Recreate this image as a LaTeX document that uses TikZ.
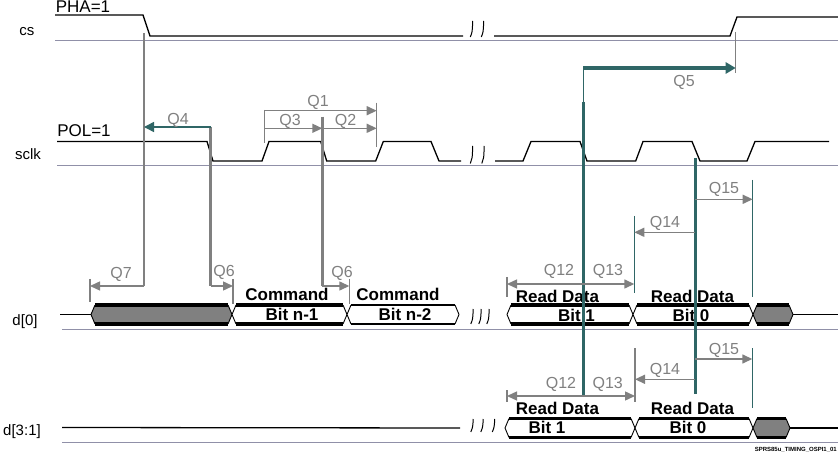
\documentclass[tikz,border=0pt]{standalone}
\usepackage{fontspec}
\setmainfont{Liberation Sans}
\usetikzlibrary{arrows.meta}
\definecolor{baseg}{HTML}{9090A8}
\definecolor{arrg}{HTML}{808080}
\definecolor{tealc}{HTML}{2F6666}
\tikzset{
 sig/.style={line width=1.3pt, black},
 base/.style={line width=1.3pt, baseg},
 tick/.style={line width=1.2pt, arrg},
 guide/.style={line width=2.6pt, arrg},
 tguide/.style={line width=3pt, tealc},
 tthin/.style={line width=1.4pt, tealc},
 dim/.style={line width=1.4pt, arrg, -{Triangle[length=10pt,width=9pt]}},
 dimb/.style={line width=1.4pt, arrg, {Triangle[length=10pt,width=9pt]}-{Triangle[length=10pt,width=9pt]}},
 tdim/.style={line width=1.5pt, tealc, -{Triangle[length=10pt,width=10pt]}},
 tdimk/.style={line width=4pt, tealc, -{Triangle[length=10pt,width=11pt]}},
 qlab/.style={text=arrg, font=\fontsize{16}{16}\selectfont, inner sep=0},
 rowlab/.style={font=\fontsize{15}{15}\selectfont, inner sep=0},
 pollab/.style={font=\fontsize{17}{17}\selectfont, inner sep=0},
 buslab/.style={font=\bfseries\fontsize{17}{17}\selectfont, inner sep=0},
 brk/.style={line width=1pt, black},
}
% bus: #1 left x, #2 right x, #3 centre y, #4 fill, #5 border width
\newcommand\tbus[5]{%
  \fill[#4] (#1,#3) -- (#1+4,#3-9.5) -- (#2-4,#3-9.5) -- (#2,#3) -- (#2-4,#3+9.5) -- (#1+4,#3+9.5) -- cycle;
  \draw[line width=0.9pt] (#1+4,#3-9.5) -- (#1,#3) -- (#1+4,#3+9.5) (#2-4,#3-9.5) -- (#2,#3) -- (#2-4,#3+9.5);
  \draw[line width=#5] (#1+4,#3-9.5) -- (#2-4,#3-9.5) (#1+4,#3+9.5) -- (#2-4,#3+9.5);
}
\newcommand\brkmark[3]{\draw[brk] (#1-1.2,#3) .. controls (#1+0.8,#3-5) .. (#1+1.2,#2);}
\begin{document}
\begin{tikzpicture}[x=1pt,y=-1pt]
\useasboundingbox (0,0) rectangle (838,454);
\fill[white] (0,0) rectangle (838,454);

% baselines
\draw[base] (55,40.7) -- (838,40.7);
\draw[base] (57,165.7) -- (838,165.7);
\draw[base] (62,329.3) -- (838,329.3);
\draw[base] (62,442.3) -- (838,442.3);

% row labels
\node[rowlab] (lcs) at (27,31.5) {cs};
\node[rowlab] (lsclk) at (28,154) {sclk};
\node[rowlab] (ld0) at (25,322) {d[0]};
\node[rowlab] (ld31) at (22,432) {d[3:1]};
\node[pollab] (pha) at (83,6.5) {PHA=1};
\node[pollab] (pol) at (84,131) {POL=1};

% cs
\draw[sig] (55,15) -- (143,15) -- (150,36) -- (463,36);
\brkmark{471.5}{21}{37}
\brkmark{482.5}{21}{37}
\draw[sig] (494,36) -- (730,36) -- (737,17) -- (838,17);

% sclk
\draw[sig] (57,141.5) -- (207,141.5) -- (213,161) -- (262,161) -- (269,141.5) -- (320.7,141.5) -- (326.7,161) -- (375.7,161) -- (383.3,141.5) -- (431,141.5) -- (439,161) -- (461,161);
\brkmark{471.5}{146}{163.5}
\brkmark{483}{146}{163.5}
\draw[sig] (495,161) -- (523,161) -- (531,141.5) -- (580,141.5) -- (587,161) -- (635.7,161) -- (643,141.5) -- (692,141.5) -- (700,161) -- (747,161) -- (755,141.5) -- (829,141.5);

% d[0]
\draw[sig] (60,314.5) -- (91,314.5);
\tbus{91}{232}{314.5}{arrg}{3.5pt}
\tbus{232}{347}{314.5}{white}{3.5pt}
\tbus{347}{459}{314.5}{white}{1.2pt}
\brkmark{472}{309}{324}
\brkmark{480}{309}{324}
\brkmark{488}{309}{324}
\tbus{507}{633}{314.5}{white}{3.5pt}
\tbus{633}{753}{314.5}{white}{3.5pt}
\tbus{753}{793}{314.5}{arrg}{3.5pt}
\draw[sig] (793,314.5) -- (838,314.5);

% d[3:1]
\draw[sig] (62,427.5) -- (460,428);
\brkmark{472}{419}{432}
\brkmark{482}{419}{432}
\brkmark{493.5}{419}{432}
\tbus{505}{635}{428}{white}{3.5pt}
\tbus{635}{753}{428}{white}{3.5pt}
\tbus{753}{790}{428}{arrg}{3.5pt}
\draw[sig] (790,428) -- (838,428);

% bus labels
\node[buslab] (c1) at (287,294) {Command};
\node[buslab] (b1) at (292,314.5) {Bit n-1};
\node[buslab] (c2) at (398,294) {Command};
\node[buslab] (b2) at (405,314.5) {Bit n-2};
\node[buslab] (r1) at (557.5,296) {Read Data};
\node[buslab] (rb1) at (576.5,315) {Bit 1};
\node[buslab] (r0) at (692.5,296) {Read Data};
\node[buslab] (rb0) at (691,315) {Bit 0};
\node[buslab] (r1l) at (557.5,408.5) {Read Data};
\node[buslab] (rb1l) at (547,427.5) {Bit 1};
\node[buslab] (r0l) at (692.5,408.5) {Read Data};
\node[buslab] (rb0l) at (688,427.5) {Bit 0};

% named coordinates for timing guides
\coordinate (g1t) at (144,33);
\coordinate (g1b) at (144,286);
\coordinate (q7e) at (90,286);
\coordinate (g2t) at (210.7,127);
\coordinate (g2b) at (210.7,286);
\coordinate (q6ae) at (233,286);
\coordinate (g3t) at (322.3,116.7);
\coordinate (g3b) at (322.3,286);
\coordinate (q6be) at (349.3,286);

% Q7
\draw[guide] (g1t) -- (g1b);
\draw[dim] (g1b) -- (q7e);
\draw[tick] (90,279) -- (90,302);
\node[qlab] (q7) at (121,274) {Q7};

% Q4 and Q6 (first)
\draw[guide] (g2t) -- (g2b);
\draw[tdim] (g2t) -- (144,127);
\node[qlab] (q4) at (178,120) {Q4};
\draw[dim] (g2b) -- (q6ae);
\draw[tick] (233,279) -- (233,304);
\node[qlab] (q6a) at (224,272) {Q6};

% Q1 Q2 Q3 and Q6 (second)
\draw[tick] (264.3,110) -- (264.3,142.7);
\draw[tick] (376.7,102.7) -- (376.7,146.7);
\draw[dim] (264.3,110.7) -- (376.7,110.7);
\draw[dim] (264.3,128.3) -- (g3t |- 0,128.3);
\draw[dim] (g3t |- 0,128.3) -- (376.7,128.3);
\node[qlab] (q1) at (318,102.5) {Q1};
\node[qlab] (q3) at (290,121) {Q3};
\node[qlab] (q2) at (345.5,121) {Q2};
\draw[guide] (g3t) -- (g3b);
\draw[dim] (g3b) -- (q6be);
\draw[tick] (349.3,279) -- (349.3,304);
\node[qlab] (q6b) at (342,273) {Q6};

% Q5
\coordinate (t1t) at (583.3,68);
\coordinate (t1m) at (583.3,102);
\coordinate (t1b) at (583.3,395);
\coordinate (csr) at (735.7,68);
\draw[tick] (735.7,32) -- (735.7,73);
\draw[tthin] (t1t) -- (t1m);
\draw[tguide] (t1m) -- (t1b);
\draw[tdimk] (t1t) -- (csr);
\node[qlab] (q5) at (684,82.5) {Q5};

% teal guide from second falling edge
\coordinate (t2t) at (695,158);
\coordinate (t2b) at (695,394);
\draw[tguide] (t2t) -- (t2b);

% upper Q12..Q15
\draw[tthin] (752.7,180) -- (752.7,297);
\draw[tthin] (634.3,216) -- (634.3,293);
\draw[tick] (507,277) -- (507,297);
\draw[dim] (t2t |- 0,199.3) -- (752.7,199.3);
\draw[dim] (t2t |- 0,232.3) -- (634.3,232.3);
\draw[dimb] (507,284) -- (634.3,284);
\node[qlab] (q15a) at (724,189.5) {Q15};
\node[qlab] (q14a) at (665,223) {Q14};
\node[qlab] (q12a) at (559,271.7) {Q12};
\node[qlab] (q13a) at (608,271.7) {Q13};

% lower Q12..Q15
\draw[tick] (635,348) -- (635,402);
\draw[tthin] (752.3,348) -- (752.3,408);
\draw[tick] (507,390) -- (507,402);
\draw[dim] (t2t |- 0,359) -- (752.3,359);
\draw[dim] (t2t |- 0,379.3) -- (635,379.3);
\draw[dimb] (507,396) -- (635,396);
\node[qlab] (q15b) at (724,350) {Q15};
\node[qlab] (q14b) at (665,370) {Q14};
\node[qlab] (q12b) at (561,384.7) {Q12};
\node[qlab] (q13b) at (607.7,384.7) {Q13};

% footer
\node[anchor=east, inner sep=0, font=\bfseries\fontsize{6}{6}\selectfont] (foot) at (837,450) {SPRS85u\_TIMING\_OSPI1\_01};
\end{tikzpicture}
\end{document}
